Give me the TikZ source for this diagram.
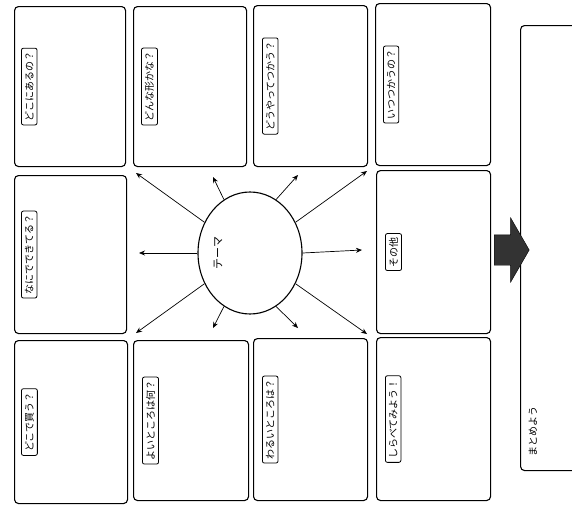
\documentclass[tikz,border=0pt]{standalone}
\usepackage{fontspec}
\newfontfamily\jpfont{Noto Sans CJK JP}
\usetikzlibrary{positioning,shapes.geometric,shapes.arrows,arrows.meta}
\tikzset{
  cell/.style={draw, line width=1.1pt, rounded corners=4pt, anchor=north west, inner sep=0pt},
  tag/.style={draw, line width=0.8pt, rounded corners=2pt, rotate=90, anchor=north, font=\jpfont\fontsize{10}{11}\selectfont, inner sep=3.5pt},
  spoke/.style={-{Stealth[length=6pt,width=5pt]}, line width=0.7pt}
}
\begin{document}
\begin{tikzpicture}[x=1pt, y=-1pt]
    \useasboundingbox (0,0) rectangle (572,506);

    % top row
    \node[cell, minimum width=111pt, minimum height=160pt] (b1) at (14,6) {};
    \node[cell, minimum width=113pt, minimum height=160pt] (b2) at (133,6) {};
    \node[cell, minimum width=114pt, minimum height=161pt] (b3) at (253,5) {};
    \node[cell, minimum width=115pt, minimum height=162pt] (b4) at (375,3) {};
    % middle row
    \node[cell, minimum width=112pt, minimum height=158pt] (b5) at (14,175) {};
    \node[cell, minimum width=114pt, minimum height=163pt] (b6) at (376,170) {};
    % bottom row
    \node[cell, minimum width=113pt, minimum height=163pt] (b7) at (14,340) {};
    \node[cell, minimum width=115pt, minimum height=160pt] (b8) at (133,340) {};
    \node[cell, minimum width=114pt, minimum height=162pt] (b9) at (253,338) {};
    \node[cell, minimum width=114pt, minimum height=163pt] (b10) at (376,337) {};
    % summary box
    \node[cell, minimum width=70pt, minimum height=445pt] (sum) at (520,25) {};

    % labels
    \node[tag] (t1) at ([xshift=7pt]b1.west) {どこにあるの？};
    \node[tag] (t2) at ([xshift=8pt]b2.west) {どんな形かな？};
    \node[tag] (t3) at ([xshift=9pt]b3.west) {どうやってつかう？};
    \node[tag] (t4) at ([xshift=8pt]b4.west) {いつつかうの？};
    \node[tag] (t5) at ([xshift=7pt]b5.west) {なにでできてる？};
    \node[tag] (t6) at ([xshift=9pt]b6.west) {その他};
    \node[tag] (t7) at ([xshift=7pt]b7.west) {どこで買う？};
    \node[tag] (t8) at ([xshift=9pt]b8.west) {よいところは何？};
    \node[tag] (t9) at ([xshift=9pt]b9.west) {わるいところは？};
    \node[tag] (t10) at ([xshift=9pt]b10.west) {しらべてみよう！};
    \node[rotate=90, font=\jpfont\fontsize{10}{11}\selectfont] (t11) at ([xshift=13pt,yshift=40pt]sum.south west) {まとめよう};

    % theme
    \node[draw, line width=1.1pt, ellipse, minimum width=104pt, minimum height=122pt] (theme) at (250,253) {};
    \node[rotate=90, font=\jpfont\fontsize{11}{12}\selectfont] (themetxt) at (218,253) {テーマ};

    % arrow tips
    \coordinate (ul) at (136,173);
    \coordinate (ll) at (136,333);
    \coordinate (ur) at (367,171);
    \coordinate (lr) at (367,334);
    \coordinate (lf) at (139,253);
    \coordinate (rt) at (362,250);
    \coordinate (tl) at (213,177);
    \coordinate (tr) at (298,175);
    \coordinate (bl) at (213,328);
    \coordinate (br) at (298,328);

    \draw[spoke] (theme.146) -- (ul);
    \draw[spoke] (theme.214) -- (ll);
    \draw[spoke] (theme.34) -- (ur);
    \draw[spoke] (theme.326) -- (lr);
    \draw[spoke] (theme.180) -- (lf);
    \draw[spoke] (theme.0) -- (rt);
    \draw[spoke] (theme.116) -- (tl);
    \draw[spoke] (theme.64) -- (tr);
    \draw[spoke] (theme.244) -- (bl);
    \draw[spoke] (theme.296) -- (br);

    % big arrow
    \node[single arrow, draw, fill=black!80, inner xsep=0pt, inner ysep=15pt,
          minimum height=35pt, single arrow head extend=17pt, single arrow tip angle=120,
          anchor=tail] (go) at (494,250) {};
\end{tikzpicture}
\end{document}
